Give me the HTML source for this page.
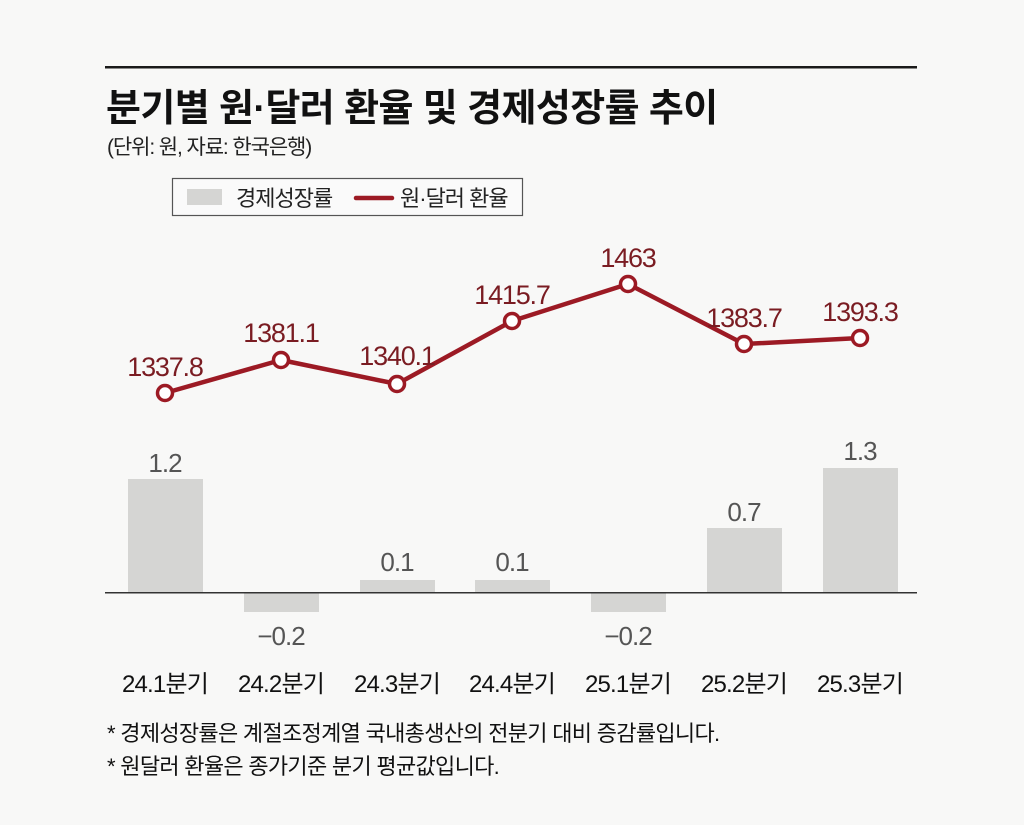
<!DOCTYPE html>
<html><head><meta charset="utf-8"><style>
html,body{margin:0;padding:0;background:#f8f8f7;}
svg{display:block;}
text{font-family:"Liberation Sans","Noto Sans CJK KR",sans-serif;}
</style></head><body>
<svg width="1024" height="825" viewBox="0 0 1024 825" xmlns="http://www.w3.org/2000/svg">
<rect width="1024" height="825" fill="#f8f8f7"/>
<rect x="105" y="66" width="812" height="2.5" fill="#1a1a1a"/>
<text x="106" y="121" font-size="38" font-weight="bold" fill="#111" letter-spacing="-0.6">분기별 원·달러 환율 및 경제성장률 추이</text>
<text x="107" y="154" font-size="21" fill="#222" letter-spacing="-1.1">(단위: 원, 자료: 한국은행)</text>
<rect x="172.5" y="178.5" width="350" height="37" fill="#fafafa" stroke="#555" stroke-width="1.2"/>
<rect x="187" y="189" width="35" height="16" fill="#d5d5d3"/>
<text x="236" y="206" font-size="22" fill="#222" letter-spacing="-1">경제성장률</text>
<line x1="356" y1="198" x2="392" y2="198" stroke="#9c1a24" stroke-width="4.5" stroke-linecap="round"/>
<text x="400" y="206" font-size="22" fill="#222" letter-spacing="-1">원·달러 환율</text>
<g fill="#d5d5d3">
<rect x="128" y="479" width="75" height="114"/>
<rect x="244" y="593" width="75" height="19"/>
<rect x="360" y="580" width="75" height="13"/>
<rect x="475" y="580" width="75" height="13"/>
<rect x="591" y="593" width="75" height="19"/>
<rect x="707" y="528" width="75" height="65"/>
<rect x="823" y="468" width="75" height="125"/>
</g>
<rect x="105" y="592" width="812" height="1.5" fill="#333"/>
<g font-size="26" fill="#555" text-anchor="middle" letter-spacing="-1">
<text x="165" y="472">1.2</text>
<text x="281" y="645">−0.2</text>
<text x="397" y="571">0.1</text>
<text x="512" y="571">0.1</text>
<text x="628" y="645">−0.2</text>
<text x="744" y="521">0.7</text>
<text x="860" y="460">1.3</text>
</g>
<polyline points="165,393 281,360 397,384 512,321 628,284 744,344 860,338" fill="none" stroke="#9c1a24" stroke-width="4.5" stroke-linejoin="round"/>
<g fill="#fff" stroke="#9c1a24" stroke-width="3.5">
<circle cx="165" cy="393" r="7.5"/><circle cx="281" cy="360" r="7.5"/><circle cx="397" cy="384" r="7.5"/><circle cx="512" cy="321" r="7.5"/><circle cx="628" cy="284" r="7.5"/><circle cx="744" cy="344" r="7.5"/><circle cx="860" cy="338" r="7.5"/>
</g>
<g font-size="27" fill="#7a1c22" text-anchor="middle" letter-spacing="-1.2">
<text x="165" y="376">1337.8</text>
<text x="281" y="342">1381.1</text>
<text x="397" y="365">1340.1</text>
<text x="512" y="304">1415.7</text>
<text x="628" y="267">1463</text>
<text x="744" y="327">1383.7</text>
<text x="860" y="321">1393.3</text>
</g>
<g font-size="24" fill="#111" text-anchor="middle" letter-spacing="-0.8">
<text x="165" y="692">24.1분기</text>
<text x="281" y="692">24.2분기</text>
<text x="397" y="692">24.3분기</text>
<text x="512" y="692">24.4분기</text>
<text x="628" y="692">25.1분기</text>
<text x="744" y="692">25.2분기</text>
<text x="860" y="692">25.3분기</text>
</g>
<g font-size="22" fill="#111" letter-spacing="-0.7">
<text x="107" y="741">* 경제성장률은 계절조정계열 국내총생산의 전분기 대비 증감률입니다.</text>
<text x="107" y="774">* 원달러 환율은 종가기준 분기 평균값입니다.</text>
</g>
</svg>
</body></html>
